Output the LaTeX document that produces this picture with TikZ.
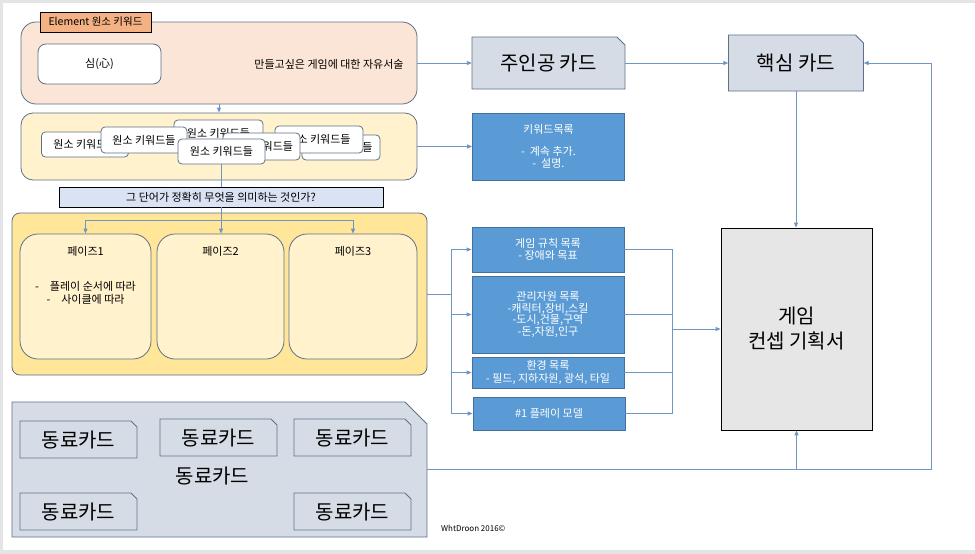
\documentclass[tikz,border=0pt]{standalone}
\usepackage{fontspec}
\setmainfont{Noto Sans CJK KR}
\usetikzlibrary{arrows.meta}
\definecolor{linkcol}{HTML}{6E95C4}
\definecolor{edgecol}{HTML}{5F7189}
\definecolor{peach}{HTML}{FBE5D6}
\definecolor{tagorange}{HTML}{F4B183}
\definecolor{paleyellow}{HTML}{FFF2CC}
\definecolor{gold}{HTML}{FFE699}
\definecolor{paleblue}{HTML}{DAE3F3}
\definecolor{listblue}{HTML}{5B9BD5}
\definecolor{listedge}{HTML}{41719C}
\definecolor{cardgray}{HTML}{D6DCE5}
\definecolor{docgray}{HTML}{E7E6E6}
\definecolor{framegray}{HTML}{E4E4E4}
% card with snipped top right corner: name, cx, cy, half width, half height, cut, node options, text
\newcommand{\snipcard}[8]{%
  \filldraw[cardline] ({#2-#4},{#3+#5}) -- ({#2-#4},{#3-#5}) -- ({#2+#4-#6},{#3-#5})
    -- ({#2+#4},{#3-#5+#6}) -- ({#2+#4},{#3+#5}) -- cycle;
  \node[minimum width={2*#4},minimum height={2*#5},#7] (#1) at (#2,#3) {#8};}

\begin{document}
\begin{tikzpicture}[x=1pt,y=-1pt,
    font=\fontsize{11}{12.5}\selectfont,
    >={Triangle[length=5pt,width=4pt]},
    every node/.style={inner sep=0pt},
    link/.style={draw=linkcol,line width=0.9pt},
    panel/.style={draw=edgecol,line width=0.8pt,rounded corners=#1},
    kwbox/.style={panel=4pt,fill=white,minimum width=87pt,minimum height=25pt},
    phasebox/.style={panel=18pt,fill=paleyellow,minimum height=125pt},
    listbox/.style={draw=listedge,line width=0.8pt,fill=listblue,text=white,
      align=center,minimum width=152pt},
    cardline/.style={draw=edgecol,fill=cardgray,line width=0.8pt},
    big/.style={font=\fontsize{20}{25}\selectfont}
  ]
  % page frame
  \useasboundingbox (0,0) rectangle (975,554);
  \fill[framegray] (0,0) rectangle (975,554);
  \fill[white] (3,3) rectangle (975,550);

  % element keywords
  \node[panel=15pt,fill=peach,minimum width=396pt,minimum height=82pt] (topbox) at (219,63) {};
  \node[draw=black,line width=0.6pt,fill=tagorange,minimum width=111pt,minimum height=20pt,
    font=\fontsize{10.5}{12}\selectfont] (tag) at (95.5,22) {Element 원소 키워드};
  \node[panel=8pt,fill=white,minimum width=123pt,minimum height=40pt] (heart) at (99.5,64) {심(心)};
  \node (freetext) at (329,64) {만들고싶은 게임에 대한 자유서술};

  \node[panel=12pt,fill=paleyellow,minimum width=396pt,minimum height=67pt] (kwpanel) at (219,146.5) {};
  \node[kwbox] (kwA) at (85,144.5) {원소 키워드들};
  \node[kwbox,minimum width=89pt,minimum height=27pt] (kwC) at (218.5,133.5) {원소 키워드들};
  \node[kwbox,minimum width=86pt,minimum height=26pt] (kwB) at (144,140) {원소 키워드들};
  \node[kwbox,minimum width=78pt] (kwE) at (341,147.5) {원소 키워드들};
  \node[kwbox,minimum width=88pt,minimum height=27pt] (kwF) at (319,139.5) {원소 키워드들};
  \node[kwbox,minimum width=77pt,minimum height=27pt] (kwD) at (261.5,146.5) {원소 키워드들};
  \node[kwbox] (kwG) at (221.5,151.5) {원소 키워드들};

  \node[draw=black,line width=0.6pt,fill=paleblue,minimum width=324pt,minimum height=20pt]
    (question) at (221,197) {그 단어가 정확히 무엇을 의미하는 것인가?};

  % phases
  \node[panel=8pt,fill=gold,minimum width=415pt,minimum height=162pt] (phasepanel) at (219.5,294) {};
  \node[phasebox,minimum width=131pt] (phase1) at (85.5,296.5) {};
  \node[phasebox,minimum width=127pt] (phase2) at (220.5,296.5) {};
  \node[phasebox,minimum width=128pt] (phase3) at (353,296.5) {};
  \node (title1) at (85.5,251) {페이즈1};
  \node (title2) at (220.5,251) {페이즈2};
  \node (title3) at (353,251) {페이즈3};
  \node[align=center] (order1) at (85.5,293) {-\quad 플레이 순서에 따라\\-\quad 사이클에 따라};

  % cards
  \snipcard{hero}{548.5}{63}{76.5}{26}{8}{big}{주인공 카드}
  \snipcard{core}{796}{63}{67.5}{28}{8}{big}{핵심 카드}

  % lists
  \node[listbox,minimum height=67pt] (kwlist) at (548.5,146.5) {키워드목록\\[9pt]-\ \ 계속 추가.\\-\ \ 설명.};
  \node[listbox,minimum height=45pt] (rules) at (548,249.5) {게임 규칙 목록\\- 장애와 목표};
  \node[listbox,minimum height=77pt,font=\fontsize{11}{11.8}\selectfont] (resources) at (548,314.5)
    {관리자원 목록\\-캐릭터,장비,스킬\\-도시,건물,구역\\-돈,자원,인구};
  \node[listbox,minimum height=31pt] (env) at (548,372.5) {환경 목록\\- 필드, 지하자원, 광석, 타일};
  \node[listbox,minimum height=33pt] (model) at (549,413.5) {\#1 플레이 모델};

  \node[draw=black,line width=0.8pt,fill=docgray,minimum width=151pt,minimum height=202pt,
    align=center,big] (concept) at (796.5,329) {게임\\컨셉 기획서};

  % fellow cards
  \snipcard{group}{219.5}{469.5}{207.5}{67.5}{22}{}{}
  \snipcard{mate1}{78.5}{439.5}{58.5}{18.5}{6}{big}{동료카드}
  \snipcard{mate2}{218.5}{437.5}{58.5}{18.5}{6}{big}{동료카드}
  \snipcard{mate3}{352.5}{437.5}{58.5}{18.5}{6}{big}{동료카드}
  \snipcard{mate4}{78.5}{511.5}{58.5}{18.5}{6}{big}{동료카드}
  \snipcard{mate5}{352.5}{511.5}{58.5}{18.5}{6}{big}{동료카드}
  \node[big] (grouplabel) at (212.5,476) {동료카드};

  \node[anchor=west,font=\fontsize{8}{9}\selectfont] (credit) at (441,528) {WhtDroon 2016©};

  % connectors
  \coordinate (split) at (221,220);
  \coordinate (fanL) at (451,294);
  \coordinate (fanR) at (672,329);
  \coordinate (loopR) at (931,469.5);
  \draw[link,->] (topbox) -- (hero);
  \draw[link,->] (hero) -- (core);
  \draw[link,->] (topbox) -- (kwpanel);
  \draw[link,->] (kwpanel) -- (kwlist);
  \draw[link] (kwG.south) -- (kwG.south |- question.north);
  \draw[link] (question.south) -- (split);
  \draw[link,->] (split) -- (split |- phase2.north);
  \draw[link,->] (split) -| (phase1.north);
  \draw[link,->] (split) -| (phase3.north);
  \draw[link] (phasepanel.east) -- (fanL);
  \draw[link,->] (fanL) |- (rules.west);
  \draw[link,->] (fanL) |- (resources.west);
  \draw[link,->] (fanL) |- (env.west);
  \draw[link,->] (fanL) |- (model.west);
  \draw[link] (rules.east) -| (fanR);
  \draw[link] (resources.east) -| (fanR);
  \draw[link] (env.east) -| (fanR);
  \draw[link] (model.east) -| (fanR);
  \draw[link,->] (fanR) -- (concept.west);
  \draw[link,->] (core.south) -- (core.south |- concept.north);
  \draw[link,->] (group.east) -- (loopR) |- (core.east);
  \draw[link,->] (concept.south |- loopR) -- (concept.south);
\end{tikzpicture}
\end{document}
